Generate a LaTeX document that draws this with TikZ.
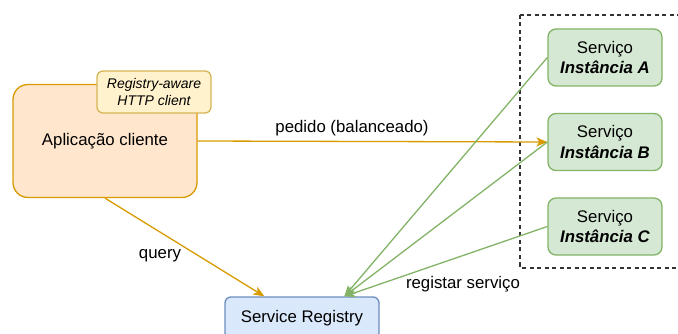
\documentclass[tikz,border=0pt]{standalone}
\usepackage{fontspec}
\setmainfont{Liberation Sans}
\usetikzlibrary{arrows.meta,calc,positioning}

\definecolor{appfill}{HTML}{FFE6CC}
\definecolor{appline}{HTML}{D79B00}
\definecolor{notefill}{HTML}{FFF2CC}
\definecolor{noteline}{HTML}{D6B656}
\definecolor{svcfill}{HTML}{D5E8D4}
\definecolor{svcline}{HTML}{82B366}
\definecolor{regfill}{HTML}{DAE8FC}
\definecolor{regline}{HTML}{6C8EBF}
\definecolor{grupoline}{HTML}{333333}

\tikzset{
  box/.style={draw, line width=1.3pt, align=center, inner sep=0pt},
  appbox/.style={box, fill=appfill, draw=appline, minimum width=184pt, minimum height=113pt, rounded corners=15pt},
  notebox/.style={box, fill=notefill, draw=noteline, minimum width=114pt, minimum height=42pt, rounded corners=6pt,
    font=\fontsize{14}{17}\selectfont\itshape},
  svcbox/.style={box, fill=svcfill, draw=svcline, minimum width=114pt, minimum height=57pt, rounded corners=8pt},
  regbox/.style={box, fill=regfill, draw=regline, minimum width=154pt, minimum height=42pt, rounded corners=6pt},
  pedidoarrow/.style={draw=appline, line width=1.3pt, -{Stealth[length=11pt,width=9pt,inset=3pt]}},
  regarrow/.style={draw=svcline, line width=1.3pt, -{Stealth[length=11pt,width=9pt,inset=3pt]}},
}

\begin{document}
\begin{tikzpicture}[x=1pt, y=-1pt, font=\fontsize{16.8}{20.5}\selectfont]
	%%%%% START %%%%%
	\useasboundingbox (0,0) rectangle (678,334);
	\clip (0,0) rectangle (678,334);

	% grupo das instancias
	\draw[dash pattern=on 4pt off 3.5pt, line width=1.5pt, draw=grupoline] (520,15) rectangle (700,268);

	\node[appbox] (app) at (105,141) {Aplicação cliente};
	\node[notebox] (client) at (154,92) {Registry-aware\\HTTP client};

	\node[svcbox] (svcA) at (605,57.5) {Serviço\\\textbf{\textit{Instância A}}};
	\node[svcbox] (svcB) at (605,142) {Serviço\\\textbf{\textit{Instância B}}};
	\node[svcbox] (svcC) at (605,226.5) {Serviço\\\textbf{\textit{Instância C}}};

	\node[regbox] (registry) at (302,318) {Service Registry};

	% pedidos
	\draw[pedidoarrow] (app.east) -- (svcB.west);
	\draw[pedidoarrow] (app.south) -- ([xshift=40pt]registry.north west);

	% registos
	\draw[regarrow] (svcA.west) -- ([xshift=120pt]registry.north west);
	\draw[regarrow] (svcB.west) -- ([xshift=120pt]registry.north west);
	\draw[regarrow] (svcC.west) -- ([xshift=120pt]registry.north west);

	\node (pedidolbl) at (352,128) {pedido (balanceado)};
	\node (querylbl) at (160,256) {query};
	\node (reglbl) at (463,284) {registar serviço};
	%%%%% END %%%%%
\end{tikzpicture}
\end{document}
